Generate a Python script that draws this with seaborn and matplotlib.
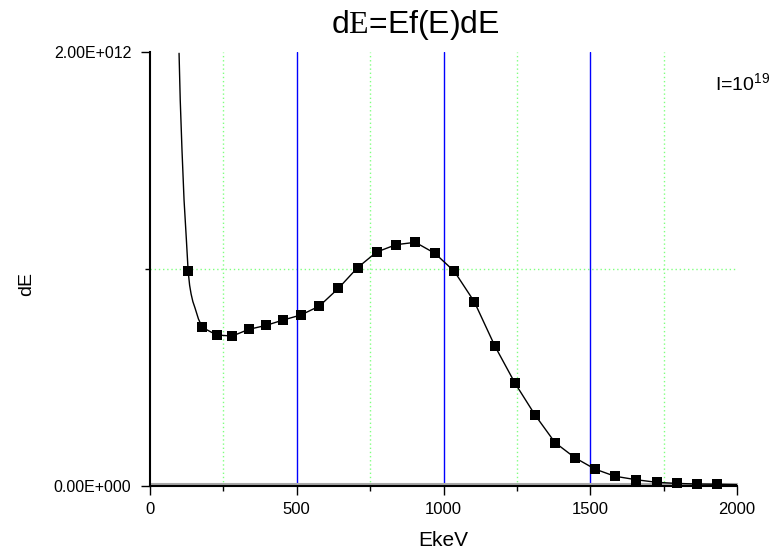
import math
import matplotlib
matplotlib.use("Agg")
import matplotlib.pyplot as plt
import matplotlib.transforms as mtransforms
import seaborn as sns
import pandas as pd
from matplotlib.ticker import FixedLocator, FuncFormatter

# ---- data ----
energy_kev = [130, 178, 227, 280, 337, 395, 454, 514, 577, 642, 707, 772, 838, 904,
              971, 1037, 1105, 1175, 1244, 1312, 1380, 1448, 1516, 1584, 1656, 1726,
              1794, 1865, 1933]
dE_values = [0.99e12, 0.731e12, 0.696e12, 0.691e12, 0.722e12, 0.740e12, 0.765e12,
             0.788e12, 0.829e12, 0.911e12, 1.006e12, 1.078e12, 1.112e12, 1.123e12,
             1.072e12, 0.989e12, 0.849e12, 0.645e12, 0.473e12, 0.327e12, 0.200e12,
             0.130e12, 0.078e12, 0.045e12, 0.029e12, 0.017e12, 0.012e12, 0.009e12,
             0.008e12]
# extra points of the fitted curve (tail rising out of the plot, bend, right end)
curve_extra_x = [99, 103, 109, 116, 124, 135, 140, 146, 153, 165, 2000]
curve_extra_y = [1.994e12, 1.779e12, 1.548e12, 1.318e12, 1.134e12, 0.925e12, 0.885e12,
                 0.85e12, 0.822e12, 0.77e12, 0.006e12]

x_major_ticks = [0, 500, 1000, 1500, 2000]
x_minor_ticks = [250, 750, 1250, 1750]
y_major_ticks = [0, 2e12]
y_minor_ticks = [1e12]
blue_grid_x = [500, 1000, 1500]

sns.set_style("white")
plt.rcParams['font.family'] = ['Liberation Sans', 'DejaVu Sans']
plt.rcParams['mathtext.fontset'] = 'custom'
plt.rcParams['mathtext.rm'] = 'Liberation Sans'
plt.rcParams['mathtext.it'] = 'Liberation Sans'
plt.rcParams['mathtext.sf'] = 'Liberation Serif'
for k in ['text.color', 'axes.labelcolor', 'xtick.color', 'ytick.color']:
    plt.rcParams[k] = 'black'

points = pd.DataFrame({"EkeV": energy_kev, "dE": dE_values})
curve = pd.concat([points,
                   pd.DataFrame({"EkeV": curve_extra_x, "dE": curve_extra_y})]
                  ).sort_values("EkeV").reset_index(drop=True)

W, H = 778, 552
fig = plt.figure(figsize=(W / 100, H / 100), dpi=100)
ax = fig.add_axes([150 / W, 1 - 486 / H, 587 / W, 434 / H])

# grid lines
for gx in x_minor_ticks:
    ax.axvline(gx, color="#80ff80", lw=1, ls=(0, (1, 2)), zorder=1)
for gy in y_minor_ticks:
    ax.axhline(gy, color="#80ff80", lw=1, ls=(0, (1, 2)), zorder=1)
for gx in blue_grid_x:
    ax.axvline(gx, color="#0000ff", lw=1, zorder=1)

# faint grey shading line just above the bottom axis
shade_tr = mtransforms.offset_copy(ax.get_yaxis_transform(), fig=fig, x=0, y=2, units="dots")
ax.plot([0, 1], [0, 0], transform=shade_tr, color="#a8a8a8", lw=1.5, zorder=2, clip_on=False)

sns.lineplot(data=curve, x="EkeV", y="dE", ax=ax, color="black", lw=1,
             sort=False, zorder=3)
sns.scatterplot(data=points, x="EkeV", y="dE", ax=ax, marker="s", color="black",
                s=60, edgecolor="black", linewidth=0, zorder=4, clip_on=False)

ax.set_xlim(0, 2000)
ax.set_ylim(0, 2e12)

ax.xaxis.set_major_locator(FixedLocator(x_major_ticks))
ax.xaxis.set_minor_locator(FixedLocator(x_minor_ticks))
ax.yaxis.set_major_locator(FixedLocator(y_major_ticks))
ax.yaxis.set_minor_locator(FixedLocator(y_minor_ticks))


def sci_fmt(v, pos):
    if v == 0:
        return "0.00E+000"
    e = int(math.floor(math.log10(abs(v))))
    m = v / 10 ** e
    return f"{m:.2f}E{'+' if e >= 0 else '-'}{abs(e):03d}"


ax.yaxis.set_major_formatter(FuncFormatter(sci_fmt))
ax.tick_params(axis="x", which="major", direction="out", length=6.5, width=1,
               labelsize=12, bottom=True, pad=5)
ax.tick_params(axis="x", which="minor", direction="out", length=3.5, width=1, bottom=True)
ax.tick_params(axis="y", which="major", direction="out", length=6.5, width=1,
               labelsize=11.5, left=True, pad=7)
ax.tick_params(axis="y", which="minor", direction="out", length=3.5, width=1, left=True)

for s in ["top", "right"]:
    ax.spines[s].set_visible(False)
for s in ["left", "bottom"]:
    ax.spines[s].set_color("black")
    ax.spines[s].set_linewidth(1.5)
    ax.spines[s].set_zorder(5)

ax.set_xlabel("")
ax.set_ylabel("")
ax.grid(False)

fig.text(443 / W, 1 - 541 / H, "EkeV", fontsize=15, ha="center", va="center")
fig.text(27 / W, 1 - 284 / H, "dE", fontsize=14, rotation=90, ha="center", va="center")
fig.text(415 / W, 1 - 33 / H, r"d$\mathsf{E}$=Ef(E)dE", fontsize=23,
         ha="center", va="baseline")
fig.text(715 / W, 1 - 90 / H, r"I=10$^{19}$", fontsize=14, ha="left", va="baseline")

fig.savefig("out.png", dpi=100)
